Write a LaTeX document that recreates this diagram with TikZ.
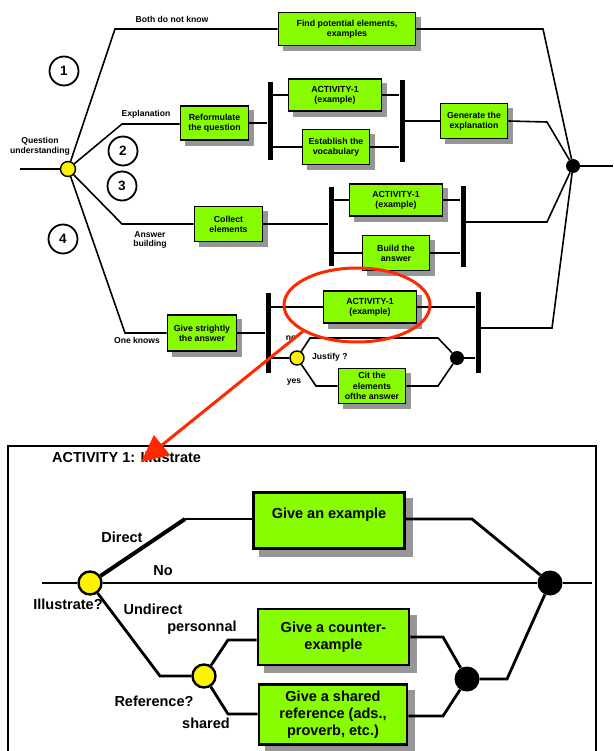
\documentclass[tikz,border=0pt]{standalone}
\usepackage{fontspec}
\setmainfont{Liberation Sans}
\usetikzlibrary{arrows.meta,shapes.geometric}
\definecolor{boxgreen}{RGB}{136,252,0}
\definecolor{redline}{RGB}{255,40,0}
\definecolor{shadowgray}{RGB}{150,150,150}
\begin{document}
\begin{tikzpicture}[x=1pt,y=-1pt,
  tbox/.style={draw=black, line width=1.6pt, fill=boxgreen, align=center, inner sep=0pt,
    font=\fontsize{8.8}{10.2}\selectfont\bfseries},
  bbox/.style={draw=black, line width=2.6pt, fill=boxgreen, align=center, inner sep=0pt,
    font=\fontsize{14.5}{17.2}\selectfont\bfseries},
  vbar/.style={fill=black, inner sep=0pt, minimum width=5pt},
  ydec/.style={circle, draw=black, fill=yellow, line width=1.4pt, inner sep=0pt, minimum size=15pt},
  bydec/.style={circle, draw=black, fill=yellow, line width=2.4pt, inner sep=0pt, minimum size=23pt},
  bdot/.style={circle, fill=black, inner sep=0pt, minimum size=14pt},
  bbdot/.style={circle, fill=black, inner sep=0pt, minimum size=25pt},
  num/.style={circle, draw=black, line width=1.8pt, minimum size=29pt, inner sep=0pt,
    font=\fontsize{13.5}{13.5}\selectfont\bfseries},
  lbl/.style={font=\fontsize{8.6}{9.8}\selectfont\bfseries, align=center, inner sep=0pt},
  blbl/.style={font=\fontsize{14.5}{17}\selectfont\bfseries, inner sep=0pt},
  tline/.style={line width=1.6pt},
  bline/.style={line width=2.8pt},
  boxshadow/.style={fill=shadowgray, draw=none}
]
\useasboundingbox (0,0) rectangle (613,751);

% ================= SHADOWS (drawn first, behind the boxes) =================
\foreach \cx/\cy/\w/\h in {347/29/137/33, 214.5/123/68/34, 335/95/93/32, 336/147/67/35,
    474/121/67/35, 228.5/224/68/35, 396/200/93/32, 396/253/67/35, 202/333/69/36,
    370/307/93/32, 372/386/67/35}{
  \fill[boxshadow] ({\cx-\w/2+4.2},{\cy-\h/2+4.2}) rectangle ({\cx+\w/2+5.8},{\cy+\h/2+5.8});
}
\foreach \cx/\cy/\w/\h in {329/520.5/151/56, 333.5/637/151/56, 333/714.5/148/60}{
  \fill[boxshadow] ({\cx-\w/2+5.7},{\cy-\h/2+5.7}) rectangle ({\cx+\w/2+8.3},{\cy+\h/2+8.3});
}

% ================= TOP DIAGRAM =================
\coordinate (start) at (20,169);
\node[ydec] (Q) at (68,169) {};
\node[bdot] (E) at (573,166) {};
\coordinate (endT) at (613,166);

% branch 1
\coordinate (c1) at (115,29);
\node[tbox, minimum width=137pt, minimum height=33pt] (B1) at (347,29) {Find potential elements,\\examples};
\coordinate (c1r) at (543,29);

% branch 2
\coordinate (c2) at (122,124);
\node[tbox, minimum width=68pt, minimum height=34pt] (Ref) at (214.5,123) {Reformulate\\the question};
\node[vbar, minimum height=78pt] (barA) at (270,121) {};
\node[tbox, minimum width=93pt, minimum height=32pt] (Act1a) at (335,95) {ACTIVITY-1\\(example)};
\node[tbox, minimum width=67pt, minimum height=35pt] (Voc) at (336,147) {Establish the\\vocabulary};
\node[vbar, minimum height=82pt] (barB) at (402,121) {};
\node[tbox, minimum width=67pt, minimum height=35pt] (Gen) at (474,121) {Generate the\\explanation};
\coordinate (c2r) at (547,122);

% branch 3
\coordinate (c3) at (122,224);
\node[tbox, minimum width=68pt, minimum height=35pt] (Col) at (228.5,224) {Collect\\elements};
\node[vbar, minimum height=79pt] (barC) at (331,226.5) {};
\node[tbox, minimum width=93pt, minimum height=32pt] (Act1b) at (396,200) {ACTIVITY-1\\(example)};
\node[tbox, minimum width=67pt, minimum height=35pt] (Bui) at (396,253) {Build the\\answer};
\node[vbar, minimum height=81pt] (barD) at (463,226.5) {};
\coordinate (c3r) at (547,222);

% branch 4
\coordinate (c4) at (125,333);
\node[tbox, minimum width=69pt, minimum height=36pt] (Giv) at (202,333) {Give strightly\\the answer};
\node[vbar, minimum height=80pt] (barE) at (268,333) {};
\node[tbox, minimum width=93pt, minimum height=32pt] (Act1c) at (370,307) {ACTIVITY-1\\(example)};
\node[vbar, minimum height=81pt] (barF) at (478,332.5) {};
\node[ydec, minimum size=14pt] (J) at (297,358) {};
\coordinate (jt1) at (310,338);
\coordinate (jt2) at (438,338);
\node[bdot] (JD) at (457,358) {};
\coordinate (jb1) at (316,386);
\node[tbox, minimum width=67pt, minimum height=35pt] (Cit) at (372,386) {Cit the\\elements\\ofthe answer};
\coordinate (jb2) at (438,386);
\coordinate (c4r) at (552,328);

% numbers
\node[num] (n1) at (64,71) {1};
\node[num] (n2) at (123,151) {2};
\node[num] (n3) at (122,186) {3};
\node[num] (n4) at (63,239) {4};

% labels
\node[lbl] (lq) at (40,146) {Question\\understanding};
\node[lbl] (lb) at (172,19) {Both do not know};
\node[lbl] (le) at (146,114) {Explanation};
\node[lbl] (la) at (150,240) {Answer\\building};
\node[lbl] (lo) at (137,340) {One knows};
\node[lbl] (lno) at (291,338) {no};
\node[lbl] (lyes) at (294,382) {yes};
\node[lbl, anchor=west] (lj) at (312,357) {Justify ?};

% connectors (top)
\draw[tline] (start) -- (Q);
\draw[tline] (E) -- (endT);
\draw[tline] (Q) -- (c1) -- (B1.west);
\draw[tline] (B1.east) -- (c1r) -- (E);
\draw[tline] (Q) -- (c2) -- (Ref.west |- c2);
\draw[tline] (Ref.east) -- (Ref.east -| barA.west);
\draw[tline] (barA.east |- Act1a.west) -- (Act1a.west);
\draw[tline] (barA.east |- Voc.west) -- (Voc.west);
\draw[tline] (Act1a.east) -- (Act1a.east -| barB.west);
\draw[tline] (Voc.east) -- (Voc.east -| barB.west);
\draw[tline] (barB.east |- Gen.west) -- (Gen.west);
\draw[tline] (Gen.east) -- (c2r) -- (E);
\draw[tline] (Q) -- (c3) -- (Col.west);
\draw[tline] (Col.east) -- (Col.east -| barC.west);
\draw[tline] (barC.east |- Act1b.west) -- (Act1b.west);
\draw[tline] (barC.east |- Bui.west) -- (Bui.west);
\draw[tline] (Act1b.east) -- (Act1b.east -| barD.west);
\draw[tline] (Bui.east) -- (Bui.east -| barD.west);
\draw[tline] (barD.east |- c3r) -- (c3r) -- (E);
\draw[tline] (Q) -- (c4) -- (Giv.west);
\draw[tline] (Giv.east) -- (Giv.east -| barE.west);
\draw[tline] (barE.east |- Act1c.west) -- (Act1c.west);
\draw[tline] (Act1c.east) -- (Act1c.east -| barF.west);
\draw[tline] (barE.east |- J) -- (J);
\draw[tline] (J) -- (jt1) -- (jt2) -- (JD);
\draw[tline] (J) -- (jb1) -- (Cit.west);
\draw[tline] (Cit.east) -- (jb2) -- (JD);
\draw[tline] (JD) -- (JD -| barF.west);
\draw[tline] (barF.east |- c4r) -- (c4r) -- (E);

% ================= BOTTOM DIAGRAM =================
\draw[line width=2pt] (8,760) -- (8,446) -- (596,446) -- (596,760);
\node[blbl, anchor=west] (title) at (52,457) {ACTIVITY 1: Illustrate};

\coordinate (bstart) at (42,583);
\coordinate (bend) at (592,583);
\node[bydec] (I) at (90,583) {};
\node[bbdot] (F) at (550,583) {};
\coordinate (d1) at (185,519);
\node[bbox, minimum width=151pt, minimum height=56pt, text height=11pt, text depth=16pt] (GE) at (329,520.5) {Give an example};
\coordinate (r1) at (472,519);
\coordinate (u1) at (160,676);
\node[bydec] (R) at (204,676) {};
\coordinate (p1) at (228,640);
\node[bbox, minimum width=151pt, minimum height=56pt] (GC) at (333.5,637) {Give a counter-\\example};
\coordinate (s1) at (228,714);
\node[bbox, minimum width=148pt, minimum height=60pt] (GS) at (333,714.5) {Give a shared\\reference (ads.,\\proverb, etc.)};
\coordinate (q1) at (443,637);
\coordinate (q2) at (443,716);
\node[bbdot] (G) at (467,679) {};
\coordinate (g1) at (507,679);

\node[blbl] (lD) at (122,537) {Direct};
\node[blbl] (lN) at (163,571) {No};
\node[blbl] (lI) at (68,604) {Illustrate?};
\node[blbl] (lU) at (153,609) {Undirect};
\node[blbl] (lP) at (202,628) {personnal};
\node[blbl] (lR) at (154,701) {Reference?};
\node[blbl] (lS) at (206,723) {shared};

\draw[bline] (bstart) -- (I);
\draw[bline] (I) -- (F);
\draw[bline] (F) -- (bend);
\draw[line width=4pt] (I) -- (d1);
\draw[bline] (d1) -- (GE.west |- d1);
\draw[bline] (GE.east |- d1) -- (r1) -- (F);
\draw[bline] (I) -- (u1) -- (R);
\draw[bline] (R) -- (p1) -- (GC.west |- p1);
\draw[bline] (R) -- (s1) -- (GS.west |- s1);
\draw[bline] (GC.east |- q1) -- (q1) -- (G);
\draw[bline] (GS.east |- q2) -- (q2) -- (G);
\draw[bline] (G) -- (g1) -- (F);

% ================= RED HIGHLIGHT =================
\node[ellipse, draw=redline, line width=3pt, minimum width=146pt, minimum height=74pt, inner sep=0pt] (ell) at (357,305) {};
\coordinate (tip) at (141,462);
\draw[redline, line width=3pt, -{Triangle[length=27pt,width=25pt]}] (ell.206) -- (tip);
\end{tikzpicture}
\end{document}
